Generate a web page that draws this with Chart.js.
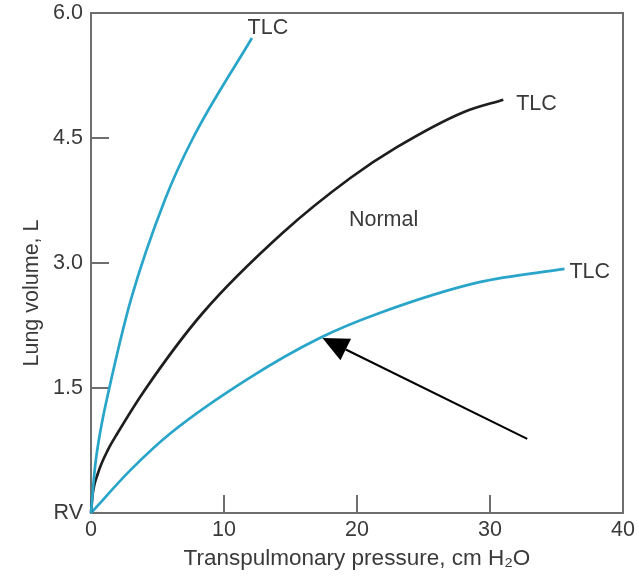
<!DOCTYPE html>
<html>
<head>
<meta charset="utf-8">
<script src="https://cdn.jsdelivr.net/npm/chart.js@4.4.1/dist/chart.umd.min.js"></script>
<style>
  html, body { margin: 0; padding: 0; background: #fff; }
</style>
</head>
<body>
<canvas id="compliance" width="639" height="576"></canvas>
<script>
// pressure (cm H2O) and volume (L)
const highCompliancePressure = [0, 0.3, 0.68, 1.35, 3.0, 5.56, 7.67, 12.1];
const highComplianceVolume = [0, 0.55, 0.96, 1.48, 2.56, 3.76, 4.5, 5.7];

const normalPressure = [0, 0.12, 0.53, 1.28, 2.0, 4.06, 8.4, 14.4, 19.5, 23.0, 28.0, 31.0];
const normalVolume = [0, 0.22, 0.48, 0.76, 0.96, 1.48, 2.4, 3.36, 4.02, 4.39, 4.81, 4.96];

const lowCompliancePressure = [0, 3.0, 6.0, 11.8, 17.2, 21.7, 29.2, 35.6];
const lowComplianceVolume = [0, 0.52, 0.96, 1.61, 2.1, 2.4, 2.77, 2.93];

const xTicks = [0, 10, 20, 30, 40];
const yTicks = [0, 1.5, 3.0, 4.5, 6.0];
const yTickLabels = ["RV", "1.5", "3.0", "4.5", "6.0"];

// text placed on the plot, in data units
const notes = [
  { text: "TLC", x: 13.3, y: 5.82 },
  { text: "TLC", x: 33.5, y: 4.91 },
  { text: "TLC", x: 37.5, y: 2.89 },
  { text: "Normal", x: 22.0, y: 3.52 },
];
const arrowFrom = { x: 32.8, y: 0.89 };
const arrowTo = { x: 17.4, y: 2.1 };

const BLUE = "#28a5c9";
const BLACK = "#1e1e1e";
const INK = "#3a3a3a";
const FRAME = "#6e6e6e";
const FONT = "'Liberation Sans', Arial, Helvetica, sans-serif";
const TICK = 18;

function points(xs, ys) {
  return xs.map((x, i) => ({ x: x, y: ys[i] }));
}

function curve(label, xs, ys, color) {
  return {
    label: label,
    data: points(xs, ys),
    borderColor: color,
    borderWidth: 2.7,
    pointRadius: 0,
    cubicInterpolationMode: "monotone",
    clip: 4,
  };
}

const overlay = {
  id: "overlay",
  beforeDatasetsDraw(chart) {
    const { ctx, chartArea: a, scales } = chart;
    ctx.save();
    ctx.strokeStyle = FRAME;
    ctx.lineWidth = 2;
    ctx.strokeRect(a.left, a.top, a.right - a.left, a.bottom - a.top);
    ctx.beginPath();
    scales.x.ticks.forEach((t) => {
      if (t.value <= scales.x.min || t.value >= scales.x.max) return;
      const px = scales.x.getPixelForValue(t.value);
      ctx.moveTo(px, a.bottom);
      ctx.lineTo(px, a.bottom - TICK);
    });
    scales.y.ticks.forEach((t) => {
      if (t.value <= scales.y.min || t.value >= scales.y.max) return;
      const py = scales.y.getPixelForValue(t.value);
      ctx.moveTo(a.left, py);
      ctx.lineTo(a.left + TICK, py);
    });
    ctx.stroke();
    ctx.restore();
  },
  afterDatasetsDraw(chart) {
    const { ctx, chartArea: a, scales: { x, y } } = chart;
    ctx.save();

    // arrow pointing at the low-compliance curve
    const x0 = x.getPixelForValue(arrowFrom.x), y0 = y.getPixelForValue(arrowFrom.y);
    const x1 = x.getPixelForValue(arrowTo.x), y1 = y.getPixelForValue(arrowTo.y);
    const ang = Math.atan2(y1 - y0, x1 - x0);
    const head = 26, half = 12;
    const bx = x1 - head * Math.cos(ang), by = y1 - head * Math.sin(ang);
    ctx.strokeStyle = "#000";
    ctx.fillStyle = "#000";
    ctx.lineWidth = 2;
    ctx.beginPath();
    ctx.moveTo(x0, y0);
    ctx.lineTo(bx, by);
    ctx.stroke();
    ctx.beginPath();
    ctx.moveTo(x1, y1);
    ctx.lineTo(bx + half * Math.sin(ang), by - half * Math.cos(ang));
    ctx.lineTo(bx - half * Math.sin(ang), by + half * Math.cos(ang));
    ctx.closePath();
    ctx.fill();

    // labels
    ctx.fillStyle = INK;
    ctx.font = "21.5px " + FONT;
    ctx.textAlign = "center";
    ctx.textBaseline = "middle";
    notes.forEach((n) => {
      ctx.fillText(n.text, x.getPixelForValue(n.x), y.getPixelForValue(n.y));
    });

    // y axis title, sits a little below the middle in the original
    ctx.translate(32, a.top + (a.bottom - a.top) * 0.56);
    ctx.rotate(-Math.PI / 2);
    ctx.fillText("Lung volume, L", 0, 0);
    ctx.restore();
  },
};

new Chart(document.getElementById("compliance"), {
  type: "line",
  data: {
    datasets: [
      curve("High compliance", highCompliancePressure, highComplianceVolume, BLUE),
      curve("Normal", normalPressure, normalVolume, BLACK),
      curve("Low compliance", lowCompliancePressure, lowComplianceVolume, BLUE),
    ],
  },
  options: {
    responsive: false,
    animation: false,
    layout: { padding: { top: 13, right: 16, left: 0, bottom: 0 } },
    plugins: {
      legend: { display: false },
      tooltip: { enabled: false },
    },
    scales: {
      x: {
        type: "linear",
        min: 0,
        max: 40,
        afterBuildTicks: (s) => { s.ticks = xTicks.map((v) => ({ value: v })); },
        afterFit: (s) => { s.height = 63; },
        grid: { display: false, drawTicks: true, tickLength: 4 },
        border: { display: false },
        ticks: {
          color: INK,
          padding: 0,
          maxRotation: 0,
          font: { family: FONT, size: 21.5 },
        },
        title: {
          display: true,
          text: "Transpulmonary pressure, cm H\u2082O",
          color: INK,
          font: { family: FONT, size: 22.5 },
          padding: { top: 2, bottom: 4 },
        },
      },
      y: {
        type: "linear",
        min: 0,
        max: 6,
        afterBuildTicks: (s) => { s.ticks = yTicks.map((v) => ({ value: v })); },
        afterFit: (s) => { s.width = 91; },
        grid: { display: false, drawTicks: true, tickLength: 8 },
        border: { display: false },
        ticks: {
          color: INK,
          padding: 0,
          font: { family: FONT, size: 21.5 },
          callback: (v) => yTickLabels[yTicks.indexOf(v)],
        },
      },
    },
  },
  plugins: [overlay],
});
</script>
</body>
</html>
